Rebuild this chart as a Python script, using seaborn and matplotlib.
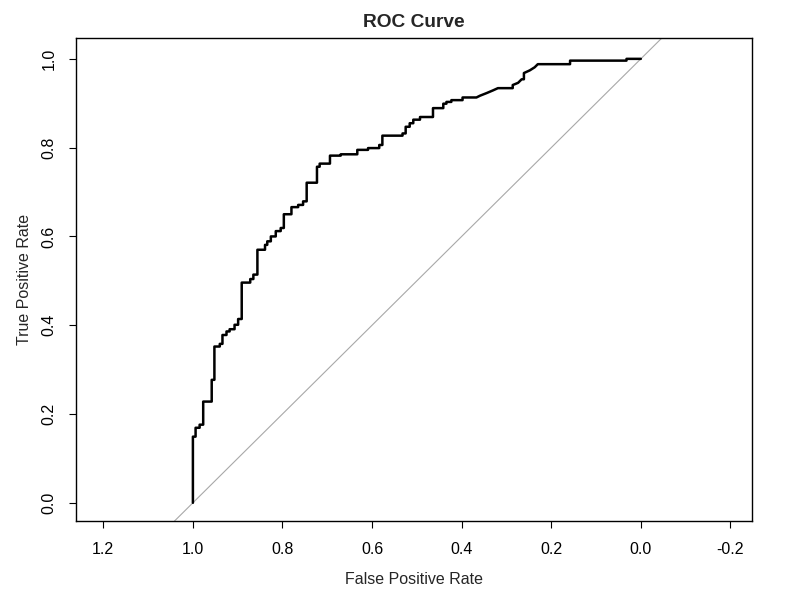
import numpy as np
import pandas as pd
import seaborn as sns
import matplotlib
matplotlib.use("Agg")
import matplotlib.pyplot as plt

# ROC curve vertices (specificity, sensitivity)
specificity = [
    1.000, 1.000, 0.994, 0.994, 0.985, 0.985, 0.977, 0.977, 0.958, 0.958,
    0.952, 0.952, 0.940, 0.940, 0.934, 0.934, 0.925, 0.925, 0.918, 0.918,
    0.907, 0.907, 0.899, 0.899, 0.891, 0.891, 0.872, 0.872, 0.865, 0.865,
    0.856, 0.856, 0.839, 0.839, 0.834, 0.834, 0.826, 0.826, 0.815, 0.815,
    0.804, 0.804, 0.797, 0.797, 0.780, 0.780, 0.765, 0.765, 0.754, 0.754,
    0.746, 0.746, 0.723, 0.723, 0.717, 0.717, 0.694, 0.694, 0.670, 0.670,
    0.633, 0.633, 0.609, 0.609, 0.584, 0.584, 0.577, 0.577, 0.532, 0.532,
    0.525, 0.525, 0.516, 0.516, 0.508, 0.508, 0.493, 0.493, 0.464, 0.464,
    0.441, 0.441, 0.434, 0.434, 0.423, 0.423, 0.398, 0.398, 0.367, 0.359,
    0.344, 0.330, 0.319, 0.286, 0.286, 0.274, 0.266, 0.261, 0.261, 0.248,
    0.237, 0.230, 0.158, 0.158, 0.032, 0.032, 0.000,
]
sensitivity = [
    0.000, 0.149, 0.149, 0.169, 0.169, 0.176, 0.176, 0.228, 0.228, 0.277,
    0.277, 0.352, 0.352, 0.358, 0.358, 0.378, 0.378, 0.386, 0.386, 0.391,
    0.391, 0.401, 0.401, 0.414, 0.414, 0.496, 0.496, 0.504, 0.504, 0.514,
    0.514, 0.570, 0.570, 0.581, 0.581, 0.589, 0.589, 0.600, 0.600, 0.612,
    0.612, 0.619, 0.619, 0.650, 0.650, 0.666, 0.666, 0.671, 0.671, 0.679,
    0.679, 0.721, 0.721, 0.757, 0.757, 0.764, 0.764, 0.782, 0.782, 0.785,
    0.785, 0.795, 0.795, 0.799, 0.799, 0.806, 0.806, 0.827, 0.827, 0.832,
    0.832, 0.847, 0.847, 0.855, 0.855, 0.863, 0.863, 0.869, 0.869, 0.889,
    0.889, 0.899, 0.899, 0.903, 0.903, 0.907, 0.907, 0.913, 0.913, 0.917,
    0.923, 0.929, 0.934, 0.934, 0.941, 0.946, 0.954, 0.954, 0.968, 0.974,
    0.981, 0.988, 0.988, 0.996, 0.996, 1.000, 1.000,
]
x_ticks = [1.2, 1.0, 0.8, 0.6, 0.4, 0.2, 0.0, -0.2]
y_ticks = [0.0, 0.2, 0.4, 0.6, 0.8, 1.0]

roc = pd.DataFrame({"spec": specificity, "sens": sensitivity})

sns.set_theme(style="white")
plt.rcParams["font.family"] = ["Liberation Sans", "DejaVu Sans"]
plt.rcParams["axes.unicode_minus"] = False

fig = plt.figure(figsize=(7.94, 6.01), dpi=100)
ax = fig.add_axes([0.0957, 0.1331, 0.8513, 0.8037])

# chance line (abline(1, -1))
ax.axline((1, 0), slope=-1, color="#a8a8a8", lw=0.8, zorder=1)
sns.lineplot(data=roc, x="spec", y="sens", sort=False, estimator=None,
             color="black", lw=1.8, ax=ax, zorder=2)

ax.set_xlim(1.261, -0.248)
ax.set_ylim(-0.041, 1.047)
ax.set_xticks(x_ticks)
ax.set_xticklabels([f"{t:.1f}" for t in x_ticks])
ax.set_yticks(y_ticks)
ax.set_yticklabels([f"{t:.1f}" for t in y_ticks], rotation=90, va="center")

for s in ax.spines.values():
    s.set_visible(True)
    s.set_color("black")
    s.set_linewidth(1.0)

ax.tick_params(axis="both", which="both", direction="out", length=5, width=0.8,
               color="black", labelsize=11.5, labelcolor="black",
               bottom=True, left=True)
ax.tick_params(axis="x", pad=10)
ax.tick_params(axis="y", pad=9)

ax.set_xlabel("False Positive Rate", fontsize=11.5, labelpad=11)
ax.set_ylabel("True Positive Rate", fontsize=11.5, labelpad=7)
ax.set_title("ROC Curve", fontsize=13.8, fontweight="bold", pad=8)

fig.savefig("out.png", dpi=100)
